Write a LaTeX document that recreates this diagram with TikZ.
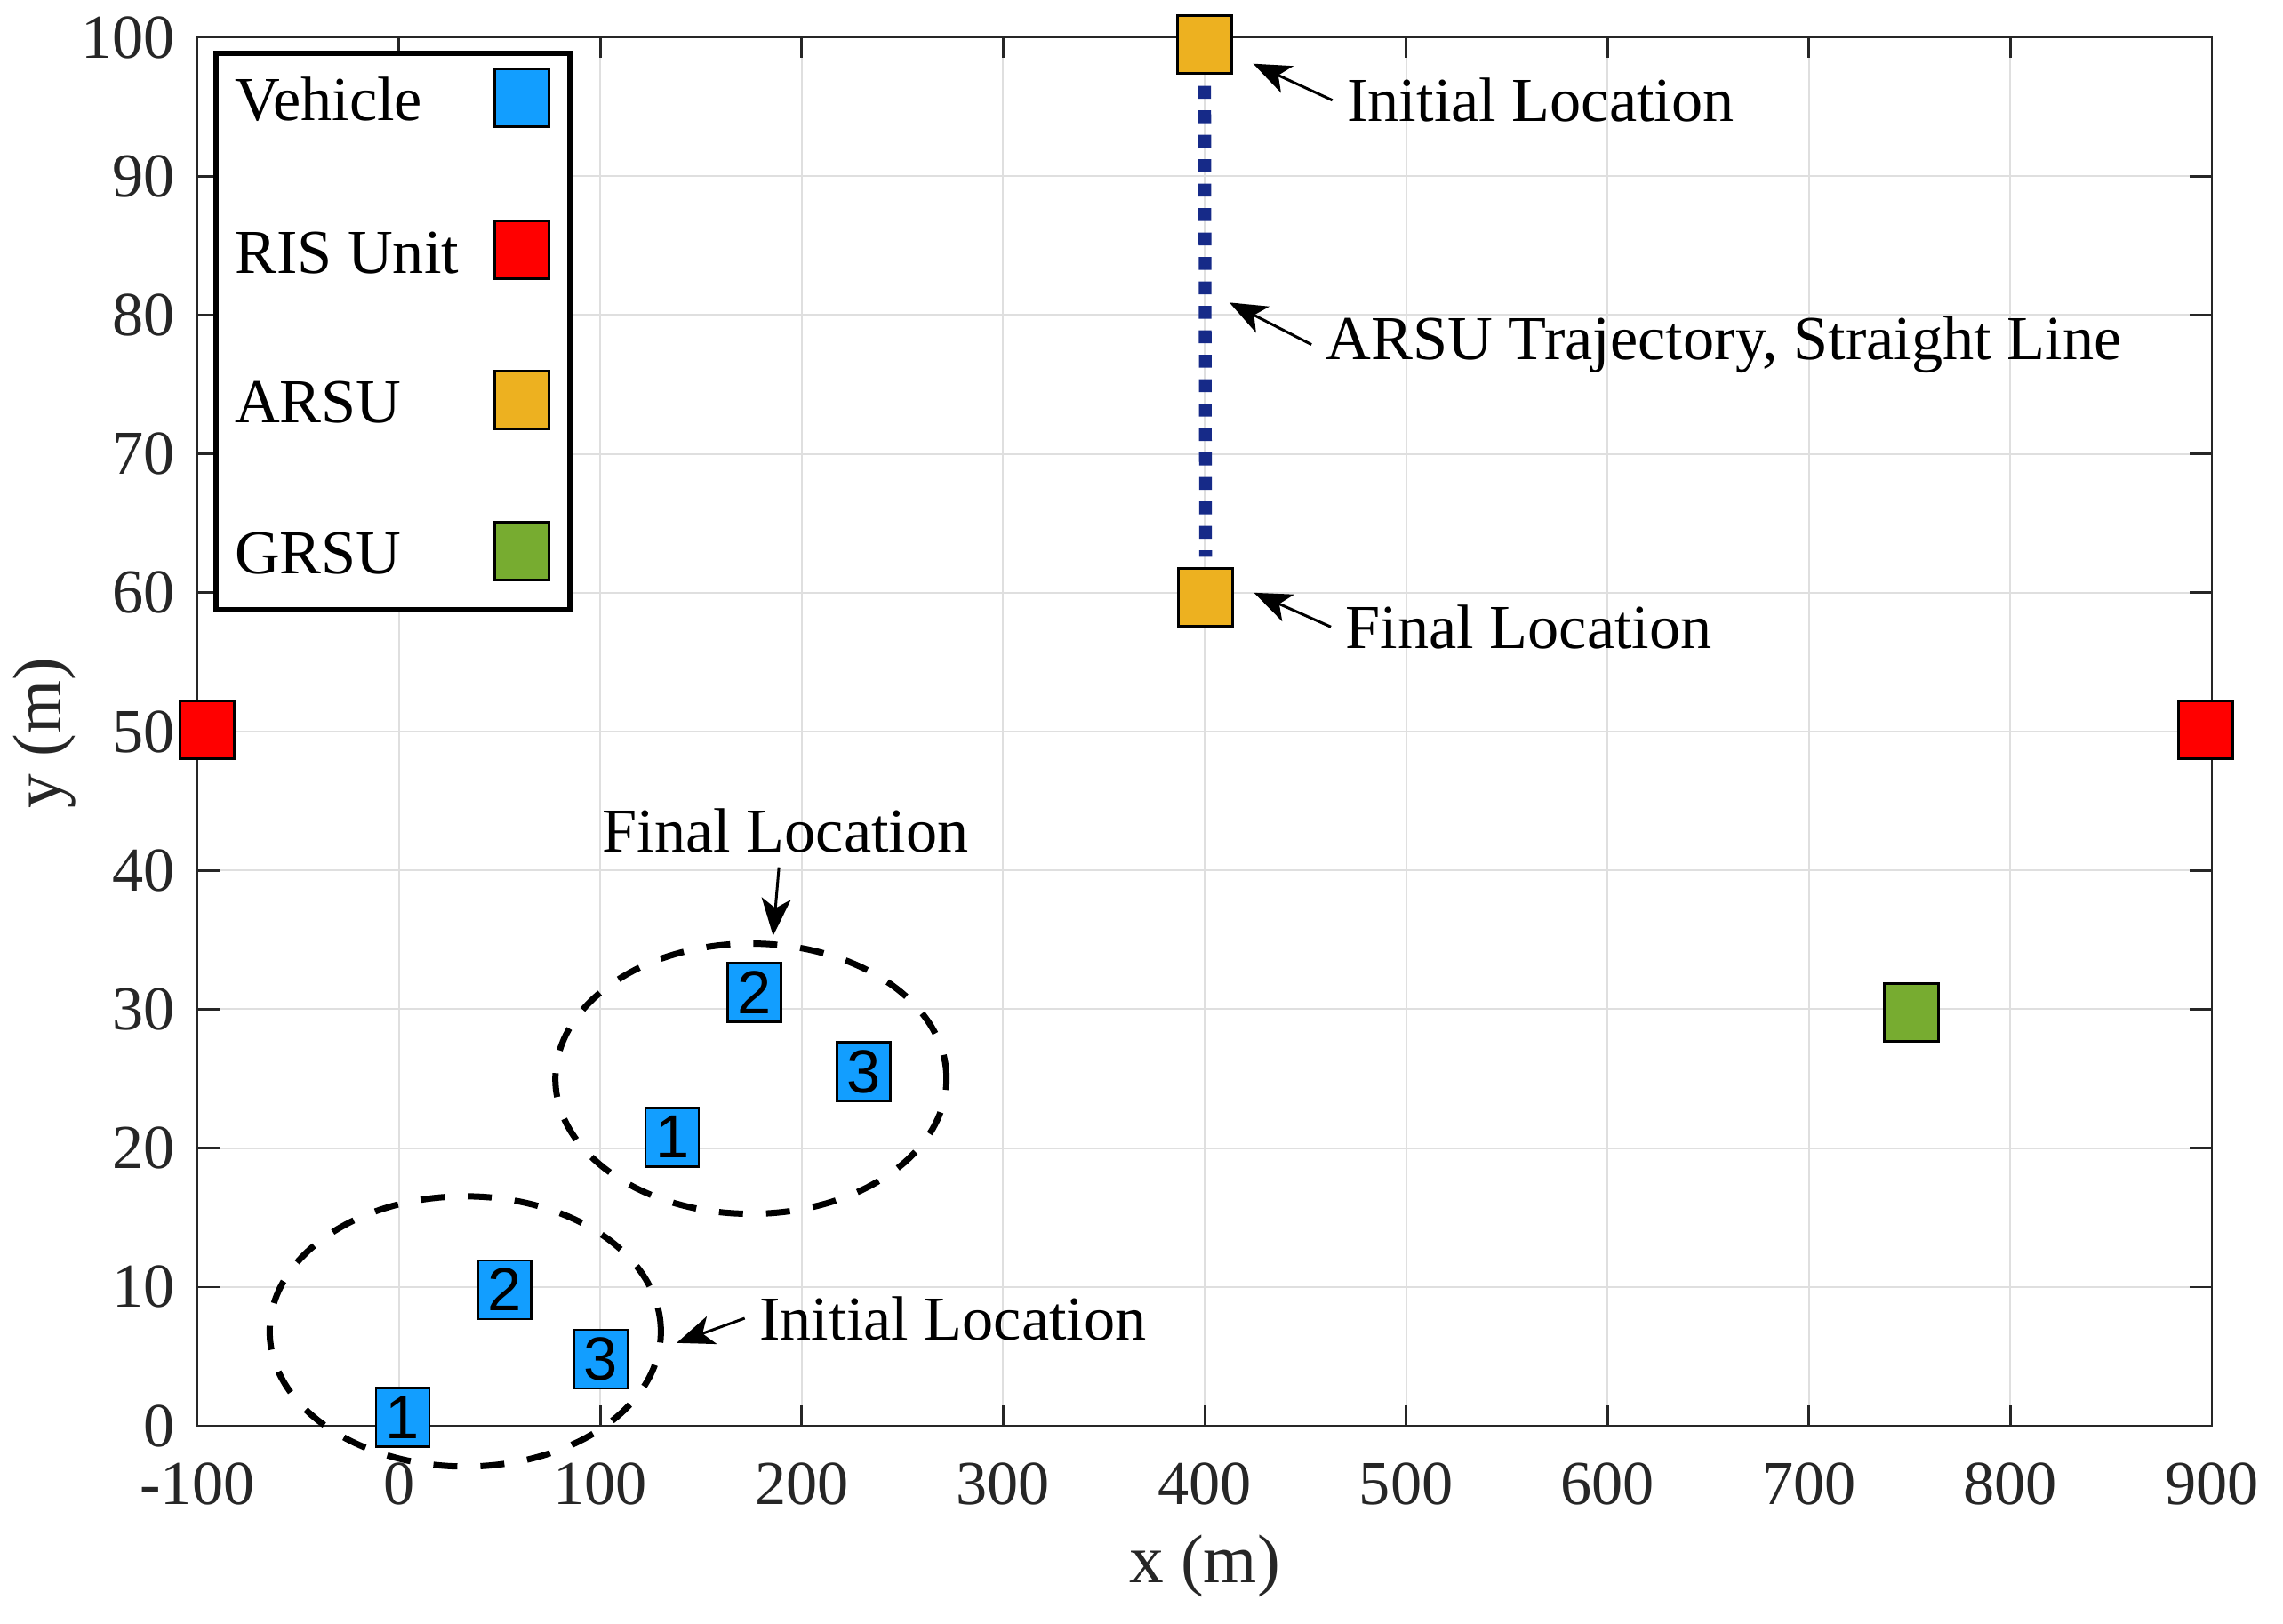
\documentclass[tikz,border=0pt]{standalone}
\usepackage{fontspec}
\setmainfont{Liberation Serif}
\setsansfont{Liberation Sans}
\usetikzlibrary{arrows.meta}
\definecolor{vehblue}{rgb}{0.07,0.62,1}
\definecolor{risred}{rgb}{1,0,0}
\definecolor{arsuyel}{rgb}{0.929,0.694,0.125}
\definecolor{grsugrn}{rgb}{0.466,0.674,0.188}
\definecolor{trajblue}{RGB}{22,42,136}
\definecolor{axgray}{RGB}{38,38,38}
\definecolor{gridgray}{RGB}{223,223,223}
\newcommand{\lblfont}{\fontsize{20}{24}\selectfont}
\tikzset{
    marker/.style={draw, line width=0.3mm, minimum width=6.1mm, minimum height=6.5mm, inner sep=0pt},
    vehicle/.style={marker, fill=vehblue, line width=0.27mm, minimum width=6.0mm, minimum height=6.6mm,
        font=\sffamily\fontsize{19.5}{22}\selectfont},
    ring/.style={line width=0.7mm, dash pattern=on 2.7mm off 2.6mm},
    pointer/.style={-{Stealth[length=4.2mm, width=3.3mm, inset=1.1mm]}, line width=0.3mm},
    callout/.style={font=\lblfont, inner sep=1.6mm},
    ticklbl/.style={font=\lblfont, text=axgray, inner sep=0pt}
}
\begin{document}
\begin{tikzpicture}[x=0.2266mm, y=1.562mm]
    \useasboundingbox (-197.97, -14.21) rectangle (935.3, 102.69);
    \foreach \gx in {-100, 0, ..., 900} \draw[gridgray, line width=0.2mm] (\gx, 0) -- (\gx, 100);
    \foreach \gy in {0, 10, ..., 100} \draw[gridgray, line width=0.2mm] (-100, \gy) -- (900, \gy);
    \foreach \gx in {-100, 0, ..., 900} {
        \draw[axgray, line width=0.27mm] (\gx, 0) -- ++(0, 1.47) (\gx, 100) -- ++(0, -1.47);
        \node[ticklbl, anchor=base] (xt\gx) at (\gx, -5.65) {\gx};
    }
    \foreach \gy in {0, 10, ..., 100} {
        \draw[axgray, line width=0.27mm] (-100, \gy) -- ++(11, 0) (900, \gy) -- ++(-11, 0);
        \node[ticklbl, anchor=east] (yt\gy) at (-110.8, \gy) {\gy};
    }
    \draw[axgray, line width=0.27mm] (-100, 0) rectangle (900, 100);
    \node[ticklbl, font=\fontsize{22}{26}\selectfont, anchor=base] (xlab) at (400, -11.31) {x (m)};
    \node[ticklbl, font=\fontsize{22}{26}\selectfont, anchor=base, rotate=90] (ylab) at (-167.8, 49.9) {y (m)};

    \node[marker, fill=risred] (risL) at (-95, 50.1) {};
    \node[marker, fill=risred] (risR) at (897, 50.1) {};
    \node[marker, fill=grsugrn] (grsu) at (751, 29.8) {};
    \node[marker, fill=arsuyel] (arsuA) at (400, 99.5) {};
    \node[marker, fill=arsuyel] (arsuB) at (400.5, 59.7) {};
    \draw[trajblue, line width=1.43mm, dash pattern=on 1.45mm off 1.3mm, shorten <=1.28mm, shorten >=1.11mm]
        (arsuA.south) -- (arsuB.north);

    \draw[ring] (33, 6.8) ellipse [x radius=22mm, y radius=15.2mm];
    \draw[ring] (174.8, 25) ellipse [x radius=22mm, y radius=15.2mm];
    \node[vehicle] (v1a) at (1.9, 0.6) {1};
    \node[vehicle] (v2a) at (52.4, 9.8) {2};
    \node[vehicle] (v3a) at (100.3, 4.8) {3};
    \node[vehicle] (v1b) at (135.7, 20.8) {1};
    \node[vehicle] (v2b) at (176.5, 31.2) {2};
    \node[vehicle] (v3b) at (230.8, 25.5) {3};

    \node[callout, anchor=base west] (iniTop) at (463.4, 93.93) {Initial Location};
    \node[callout, anchor=base west] (trajTxt) at (453.0, 76.8) {ARSU Trajectory, Straight Line};
    \node[callout, anchor=base west] (finTop) at (462.7, 56.0) {Final Location};
    \node[callout, anchor=base west] (iniLow) at (171.7, 6.21) {Initial Location};
    \node[callout, anchor=base] (finLow) at (192, 41.34) {Final Location};
    \coordinate (iniTopTip) at (424.1, 98.1);
    \coordinate (trajTip) at (412.3, 80.9);
    \coordinate (finTopTip) at (424.5, 60.0);
    \coordinate (iniLowTip) at (137.9, 5.97);
    \coordinate (finLowTip) at (185.8, 35.3);
    \draw[pointer] (iniTop.west) -- (iniTopTip);
    \draw[pointer] (trajTxt.west) -- (trajTip);
    \draw[pointer] (finTop.west) -- (finTopTip);
    \draw[pointer] (iniLow.west) -- (iniLowTip);
    \draw[pointer] ([xshift=-0.75mm]finLow.south) -- (finLowTip);

    \draw[line width=0.6mm, fill=white] (-90.6, 58.75) rectangle (84.7, 98.82);
    \foreach \nm/\col/\ly [count=\k] in {Vehicle/vehblue/95.67, RIS Unit/risred/84.67,
            ARSU/arsuyel/73.88, GRSU/grsugrn/63.0} {
        \node[marker, fill=\col] (key\k) at (60.9, \ly) {};
        \node[font=\lblfont, anchor=base west, inner sep=0pt] (keytxt\k) at (-81.7, \ly - 1.65) {\nm};
    }
\end{tikzpicture}
\end{document}
